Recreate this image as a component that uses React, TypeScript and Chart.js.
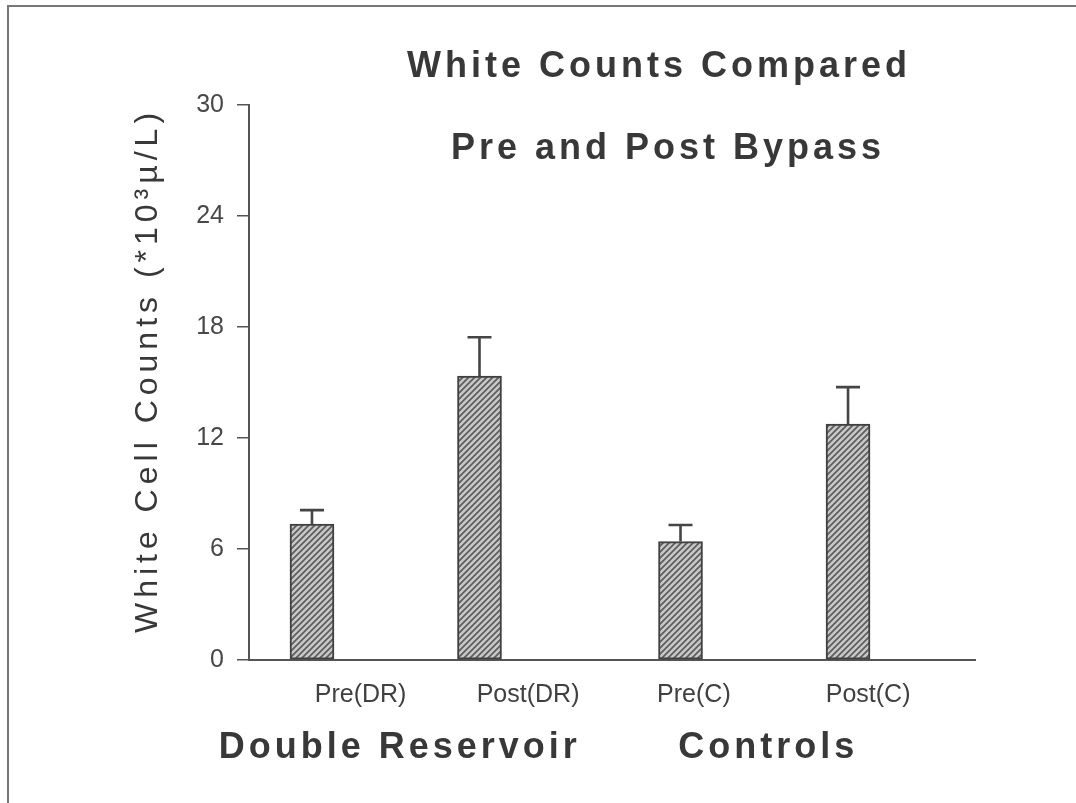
import React, { useEffect, useRef } from 'react';
import { Chart, registerables } from 'chart.js';

Chart.register(...registerables);

// ---- data ----
const categories = ['Pre(DR)', 'Post(DR)', 'Pre(C)', 'Post(C)'];
const groups = ['Double Reservoir', 'Controls'];
const groupMembers = [[0, 1], [2, 3]];
const barSlots = [1, 2, 3.2, 4.2];
const labelSlots = [1.29, 2.29, 3.28, 4.32];
const meanCounts = [7.35, 15.35, 6.4, 12.75];
const errorTops = [8.1, 17.45, 7.3, 14.75];
const yTicks = [0, 6, 12, 18, 24, 30];
const titleLines = ['White Counts Compared', 'Pre and Post Bypass'];
const yAxisTitle = 'White Cell Counts (*10³µ/L)';

const FONT = '"Liberation Sans", Arial, Helvetica, sans-serif';
const INK = '#383838';
const LINE = '#555555';

export default function App() {
  const ref = useRef<HTMLCanvasElement>(null);

  useEffect(() => {
    const canvas = ref.current as HTMLCanvasElement;
    const ctx = canvas.getContext('2d') as CanvasRenderingContext2D;

    const tile = document.createElement('canvas');
    tile.width = 6;
    tile.height = 6;
    const t = tile.getContext('2d') as CanvasRenderingContext2D;
    t.fillStyle = '#c8c8c8';
    t.fillRect(0, 0, 6, 6);
    t.strokeStyle = '#5c5c5c';
    t.lineWidth = 1.7;
    t.beginPath();
    t.moveTo(0, 6); t.lineTo(6, 0);
    t.moveTo(-1, 1); t.lineTo(1, -1);
    t.moveTo(5, 7); t.lineTo(7, 5);
    t.stroke();
    const pattern = ctx.createPattern(tile, 'repeat') as CanvasPattern;

    const decor = {
      id: 'decor',
      beforeDraw(chart: any) {
        const c = chart.ctx as CanvasRenderingContext2D;
        c.save();
        c.fillStyle = '#ffffff';
        c.fillRect(0, 0, chart.width, chart.height);
        c.strokeStyle = '#777777';
        c.lineWidth = 2;
        c.beginPath();
        c.moveTo(8, chart.height);
        c.lineTo(8, 6);
        c.lineTo(chart.width, 6);
        c.stroke();
        c.restore();
      },
      afterDatasetsDraw(chart: any) {
        const c = chart.ctx as CanvasRenderingContext2D;
        const ys = chart.scales.y;
        const meta = chart.getDatasetMeta(0);
        c.save();
        c.strokeStyle = '#454545';
        c.lineWidth = 2.6;
        meta.data.forEach((bar: any, i: number) => {
          const yTop = ys.getPixelForValue(errorTops[i]);
          c.beginPath();
          c.moveTo(bar.x, bar.y);
          c.lineTo(bar.x, yTop);
          c.moveTo(bar.x - 12, yTop);
          c.lineTo(bar.x + 12, yTop);
          c.stroke();
        });
        c.restore();
      },
      afterDraw(chart: any) {
        const c = chart.ctx as CanvasRenderingContext2D;
        const xs = chart.scales.x;
        const area = chart.chartArea;
        c.save();
        c.fillStyle = INK;
        c.textBaseline = 'middle';
        c.textAlign = 'center';
        (c as any).letterSpacing = '4px';
        c.font = `bold 36px ${FONT}`;
        c.fillText(titleLines[0], 659, 67);
        c.fillText(titleLines[1], 668, 149);

        c.font = `bold 36px ${FONT}`;
        (c as any).letterSpacing = '4px';
        groups.forEach((g, gi) => {
          const members = groupMembers[gi];
          const mid = members.reduce((s, m) => s + barSlots[m], 0) / members.length;
          c.fillText(g, xs.getPixelForValue(mid) + 4, 748);
        });

        c.font = `32px ${FONT}`;
        (c as any).letterSpacing = '5px';
        c.translate(148, (area.top + area.bottom) / 2 - 12);
        c.rotate(-Math.PI / 2);
        c.fillText(yAxisTitle, 0, 0);
        c.restore();
      },
    };

    const chart = new Chart(canvas, {
      type: 'bar',
      data: {
        datasets: [
          {
            data: meanCounts.map((v, i) => ({ x: barSlots[i], y: v })),
            backgroundColor: pattern,
            borderColor: '#404040',
            borderWidth: 2,
            borderSkipped: false,
            barThickness: 44,
          },
        ],
      },
      options: {
        responsive: false,
        animation: false,
        devicePixelRatio: 1,
        layout: { padding: { top: 105, right: 101, left: 0, bottom: 0 } },
        plugins: {
          legend: { display: false },
          tooltip: { enabled: false },
          title: { display: false },
        },
        scales: {
          x: {
            type: 'linear',
            min: 0.624,
            max: 4.958,
            offset: false,
            grid: { display: false, drawOnChartArea: false, drawTicks: false, offset: false },
            border: { display: true, color: LINE, width: 2 },
            afterBuildTicks: (scale: any) => {
              scale.ticks = labelSlots.map((v) => ({ value: v }));
            },
            afterFit: (scale: any) => {
              scale.height = 143;
            },
            ticks: {
              autoSkip: false,
              maxRotation: 0,
              padding: 20,
              color: '#404040',
              font: { family: FONT, size: 25 },
              callback: (_v: any, i: number) => categories[i],
            },
          },
          y: {
            type: 'linear',
            min: 0,
            max: 30,
            afterBuildTicks: (scale: any) => {
              scale.ticks = yTicks.map((v) => ({ value: v }));
            },
            afterFit: (scale: any) => {
              scale.width = 249;
            },
            grid: {
              drawOnChartArea: false,
              drawTicks: true,
              tickLength: 12,
              color: LINE,
              lineWidth: 1.5,
            },
            border: { display: true, color: LINE, width: 2 },
            ticks: {
              padding: 13,
              color: '#484848',
              font: { family: FONT, size: 25 },
            },
          },
        },
      },
      plugins: [decor],
    } as any);

    return () => chart.destroy();
  }, []);

  return (
    <div style={{ position: 'absolute', left: 0, top: 0, width: 1076, height: 803, background: '#fff' }}>
      <canvas ref={ref} width={1076} height={803} style={{ display: 'block' }} />
    </div>
  );
}
